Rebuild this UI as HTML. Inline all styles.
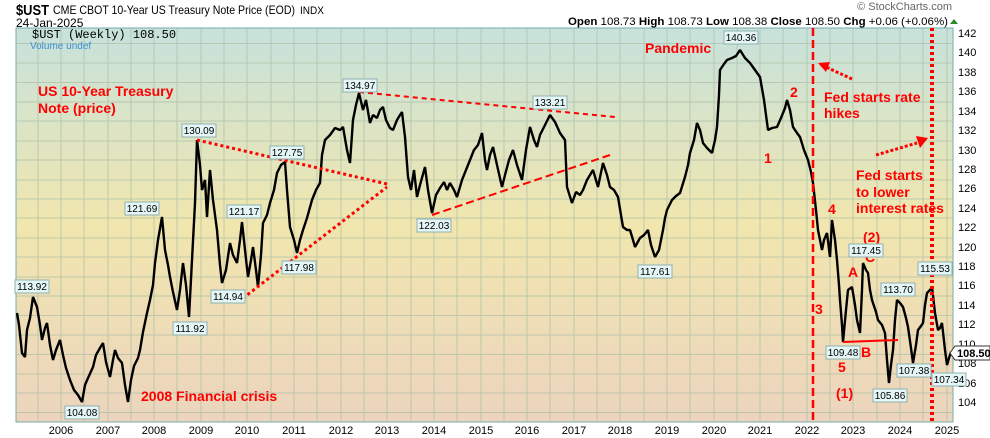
<!DOCTYPE html>
<html><head><meta charset="utf-8"><style>
body{margin:0;background:#fff;}
svg{display:block;font-family:"Liberation Sans",sans-serif;}
.lb rect{fill:#e4f6f6;stroke:#8fb0b0;stroke-width:1}
.lb text{font-size:10px;fill:#000;text-anchor:middle}
.r{fill:#f00;font-weight:bold;font-size:14px}
</style></head><body>
<svg width="990" height="438" viewBox="0 0 990 438" xmlns="http://www.w3.org/2000/svg">
<defs>
<linearGradient id="bg" x1="0" y1="0" x2="0" y2="1">
<stop offset="0" stop-color="#c7e2dc"/>
<stop offset="0.5" stop-color="#f1e6ae"/>
<stop offset="1" stop-color="#ecd4be"/>
</linearGradient>
</defs>
<text x="16" y="15" font-size="15" font-weight="bold" textLength="33" lengthAdjust="spacingAndGlyphs">$UST</text>
<text x="53" y="14" font-size="12" textLength="242" lengthAdjust="spacingAndGlyphs">CME CBOT 10-Year US Treasury Note Price (EOD)</text>
<text x="300" y="14" font-size="11" textLength="24" lengthAdjust="spacingAndGlyphs">INDX</text>
<text x="16" y="27" font-size="12">24-Jan-2025</text>
<text x="952" y="10" font-size="11" fill="#666" text-anchor="end">© StockCharts.com</text>
<text x="568" y="25" font-size="11" textLength="380" lengthAdjust="spacingAndGlyphs"><tspan font-weight="bold">Open</tspan> 108.73 <tspan font-weight="bold">High</tspan> 108.73 <tspan font-weight="bold">Low</tspan> 108.38 <tspan font-weight="bold">Close</tspan> 108.50 <tspan font-weight="bold">Chg</tspan> +0.06 (+0.06%)</text>
<polygon points="950,24 958,24 954,19" fill="#2a8a2a"/>
<rect x="16" y="28" width="937" height="394" fill="url(#bg)" stroke="#7aa" stroke-width="1"/>
<g stroke="#a9bfa6" stroke-width="1" opacity="0.7">
<path d="M16 43.5H953M16 63H953M16 82.5H953M16 102H953M16 121H953M16 141H953M16 160H953M16 180H953M16 199H953M16 218H953M16 238H953M16 257H953M16 277H953M16 296H953M16 315.5H953M16 335H953M16 354.5H953M16 374H953M16 393H953M16 412.5H953"/>
<path d="M38 28V422M61 28V422M84 28V422M108 28V422M131 28V422M154 28V422M177 28V422M201 28V422M224 28V422M247 28V422M271 28V422M294 28V422M317 28V422M341 28V422M364 28V422M387 28V422M411 28V422M434 28V422M457 28V422M481 28V422M504 28V422M527 28V422M550 28V422M574 28V422M597 28V422M620 28V422M644 28V422M667 28V422M690 28V422M714 28V422M737 28V422M760 28V422M783 28V422M807 28V422M830 28V422M853 28V422M877 28V422M900 28V422M923 28V422M947 28V422"/>
</g>
<text x="32" y="38" font-size="12" font-family="Liberation Mono,monospace">$UST (Weekly) 108.50</text>
<text x="30" y="49" font-size="10" fill="#3a8ed0">Volume undef</text>
<g font-size="11" fill="#000">
<text x="958" y="37">142</text><text x="958" y="56">140</text><text x="958" y="76">138</text><text x="958" y="95">136</text><text x="958" y="115">134</text><text x="958" y="134">132</text><text x="958" y="154">130</text><text x="958" y="173">128</text><text x="958" y="192">126</text><text x="958" y="212">124</text><text x="958" y="231">122</text><text x="958" y="251">120</text><text x="958" y="270">118</text><text x="958" y="289">116</text><text x="958" y="309">114</text><text x="958" y="328">112</text><text x="958" y="348">110</text><text x="958" y="367">108</text><text x="958" y="387">106</text><text x="958" y="406">104</text>
</g>
<g font-size="11" text-anchor="middle">
<text x="61" y="434">2006</text><text x="108" y="434">2007</text><text x="154" y="434">2008</text><text x="201" y="434">2009</text><text x="247" y="434">2010</text><text x="294" y="434">2011</text><text x="341" y="434">2012</text><text x="387" y="434">2013</text><text x="434" y="434">2014</text><text x="481" y="434">2015</text><text x="527" y="434">2016</text><text x="574" y="434">2017</text><text x="620" y="434">2018</text><text x="667" y="434">2019</text><text x="714" y="434">2020</text><text x="760" y="434">2021</text><text x="807" y="434">2022</text><text x="853" y="434">2023</text><text x="900" y="434">2024</text><text x="947" y="434">2025</text>
</g>
<polyline fill="none" stroke="#000" stroke-width="2.4" stroke-linejoin="bevel" points="17,313 19,325 22,353 25,357 27,330 30,318 33,297 37,307 40,325 42,340 45,328 47,323 50,345 53,360 56,350 60,340 63,355 66,368 70,380 74,390 78,395 82,402 85,385 88,378 93,367 96,355 100,348 103,343 106,362 110,377 113,360 115,350 118,358 122,363 125,385 128,402 131,380 134,366 138,358 140,350 143,332 147,313 150,300 153,285 155,263 158,240 162,217 165,250 168,265 170,277 173,292 177,310 180,290 183,263 186,285 189,317 192,260 195,203 197,140 200,165 202,190 205,180 207,217 210,170 213,200 217,230 220,265 222,283 226,270 230,243 233,255 237,263 240,240 242,222 245,250 248,277 251,260 253,247 256,270 258,287 261,255 263,223 267,215 270,203 274,190 277,173 281,165 285,162 287,190 290,227 294,240 297,253 300,240 303,230 307,218 312,200 316,190 320,183 322,155 325,140 330,135 335,128 340,130 343,127 347,150 350,163 353,120 356,105 359,93 363,110 366,100 370,123 373,115 377,118 380,110 383,107 386,120 390,128 393,130 397,120 400,115 402,112 405,137 408,177 411,190 414,170 417,197 420,185 425,167 428,190 432,213 436,195 440,188 444,182 447,190 450,183 454,190 457,197 462,180 466,170 470,160 474,150 478,145 482,133 485,160 487,170 490,155 493,147 497,165 502,187 505,175 509,160 513,150 517,165 522,180 526,150 530,127 534,140 537,147 540,135 545,125 550,115 555,122 560,133 565,140 567,187 572,203 576,192 580,195 583,190 587,180 593,170 598,187 603,163 607,175 610,187 614,190 618,197 621,215 623,227 627,230 630,230 633,240 635,247 640,238 644,235 648,230 651,245 655,257 659,250 663,230 665,218 667,210 672,200 676,196 680,193 685,177 688,165 690,153 694,140 697,123 700,130 703,143 707,148 712,153 715,140 717,127 719,95 720,70 724,64 727,60 732,58 736,56 740,50 745,58 750,63 755,70 760,77 764,100 768,130 772,128 777,127 781,118 785,108 787,100 790,110 793,127 797,133 800,137 804,150 808,160 811,172 813,183 816,210 818,230 820,240 822,250 824,240 827,233 830,257 832,220 835,240 837,260 839,285 840,300 842,325 843,342 846,310 848,290 852,287 855,305 857,320 860,333 862,290 863,263 866,270 868,273 870,290 872,300 876,312 878,320 882,325 885,333 887,360 889,383 891,365 893,350 895,320 897,300 900,303 903,307 906,318 908,327 911,348 913,363 916,345 918,330 921,326 923,323 925,305 927,293 930,290 932,287 935,313 938,330 940,328 942,323 945,350 947,365 949,358 951,352"/>
<g stroke="#f00" fill="none">
<line x1="197" y1="140" x2="387" y2="184" stroke-width="3" stroke-dasharray="3,3"/>
<line x1="238" y1="302" x2="387" y2="187" stroke-width="3" stroke-dasharray="3,3"/>
<line x1="359" y1="92" x2="615" y2="117" stroke-width="2" stroke-dasharray="5,4"/>
<line x1="432" y1="215" x2="610" y2="155" stroke-width="2" stroke-dasharray="8,4"/>
<line x1="843" y1="342" x2="898" y2="340" stroke-width="2"/>
<line x1="813" y1="28" x2="813" y2="422" stroke-width="2.5" stroke-dasharray="8,4"/>
<line x1="932" y1="28" x2="932" y2="422" stroke-width="4" stroke-dasharray="3,3"/>
<line x1="852" y1="79" x2="826" y2="67" stroke-width="3" stroke-dasharray="3,2"/>
<line x1="876" y1="155" x2="917" y2="143" stroke-width="3" stroke-dasharray="3,2"/>
</g>
<polygon points="818,63 830,62 826,72" fill="#f00"/>
<polygon points="928,138 916,136 920,148" fill="#f00"/>
<g class="r">
<text x="38" y="96">US 10-Year Treasury</text>
<text x="38" y="113">Note (price)</text>
<text x="141" y="401">2008 Financial crisis</text>
<text x="645" y="53">Pandemic</text>
<text x="764" y="163">1</text>
<text x="790" y="97">2</text>
<text x="815" y="314">3</text>
<text x="828" y="214">4</text>
<text x="838" y="372">5</text>
<text x="836" y="398">(1)</text>
<text x="863" y="242">(2)</text>
<text x="848" y="277">A</text>
<text x="865" y="262">C</text>
<text x="861" y="357">B</text>
<text x="824" y="102">Fed starts rate</text>
<text x="824" y="118">hikes</text>
<text x="856" y="180">Fed starts</text>
<text x="856" y="197">to lower</text>
<text x="856" y="213">interest rates</text>
</g>
<g class="lb">
<rect x="15" y="280" width="34" height="13"/><text x="32" y="290">113.92</text>
<rect x="65" y="406" width="34" height="13"/><text x="82" y="416">104.08</text>
<rect x="125" y="202" width="34" height="13"/><text x="142" y="212">121.69</text>
<rect x="173" y="322" width="34" height="13"/><text x="190" y="332">111.92</text>
<rect x="182" y="124" width="34" height="13"/><text x="199" y="134">130.09</text>
<rect x="211" y="290" width="34" height="13"/><text x="228" y="300">114.94</text>
<rect x="227" y="205" width="34" height="13"/><text x="244" y="215">121.17</text>
<rect x="270" y="146" width="34" height="13"/><text x="287" y="156">127.75</text>
<rect x="282" y="261" width="34" height="13"/><text x="299" y="271">117.98</text>
<rect x="343" y="79" width="34" height="13"/><text x="360" y="89">134.97</text>
<rect x="417" y="219" width="34" height="13"/><text x="434" y="229">122.03</text>
<rect x="533" y="96" width="34" height="13"/><text x="550" y="106">133.21</text>
<rect x="638" y="265" width="34" height="13"/><text x="655" y="275">117.61</text>
<rect x="724" y="31" width="34" height="13"/><text x="741" y="41">140.36</text>
<rect x="826" y="346" width="34" height="13"/><text x="843" y="356">109.48</text>
<rect x="849" y="244" width="34" height="13"/><text x="866" y="254">117.45</text>
<rect x="873" y="389" width="34" height="13"/><text x="890" y="399">105.86</text>
<rect x="881" y="283" width="34" height="13"/><text x="898" y="293">113.70</text>
<rect x="897" y="364" width="34" height="13"/><text x="914" y="374">107.38</text>
<rect x="918" y="262" width="34" height="13"/><text x="935" y="272">115.53</text>
<rect x="932" y="373" width="34" height="13"/><text x="949" y="383">107.34</text>
</g>
<polygon points="950,353 955,346 990,346 990,360 955,360" fill="#fff" stroke="#333"/>
<text x="957" y="357" font-size="11" font-weight="bold">108.50</text>
</svg>
</body></html>
